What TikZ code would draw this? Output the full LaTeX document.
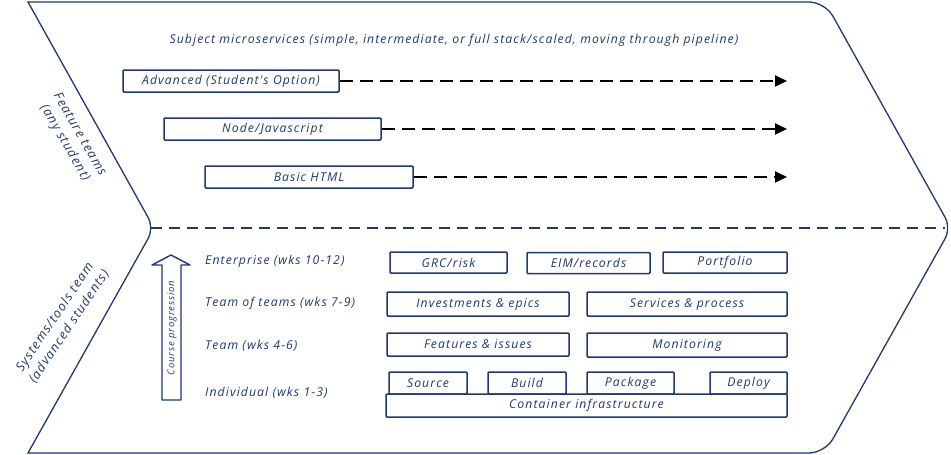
\documentclass[tikz,border=0pt]{standalone}
\usepackage{fontspec}
\setmainfont{Open Sans}[ItalicFont={Open Sans Italic}]
\newfontfamily\hand[LetterSpace=9]{Open Sans Italic}
\usetikzlibrary{arrows.meta}
\definecolor{navy}{RGB}{31,56,110}
\begin{document}
\begin{tikzpicture}[x=1pt,y=-1pt,
  outline/.style={draw=navy,line width=1.3pt},
  lbl/.style={text=navy,font=\hand\fontsize{12.2}{14}\selectfont,inner sep=0pt},
  side/.style={text=navy,font=\hand\fontsize{12.8}{17}\selectfont,inner sep=0pt,align=center},
  boxA/.style={draw=navy,line width=1.5pt,text=navy,font=\hand\fontsize{12.2}{14}\selectfont,inner sep=0pt,rounded corners=1pt},
  dasharrow/.style={draw=black,line width=1.8pt,dash pattern=on 13pt off 7pt,-{Triangle[length=12pt,width=11pt]}},
  small/.style={text=navy,font=\hand\fontsize{9.5}{11}\selectfont,inner sep=0pt}]
\useasboundingbox (0,0) rectangle (951,455);
% outer chevron
\draw[outline] (28,2) [rounded corners=16pt] -- (825,2) [rounded corners=12pt] -- (951,228) [rounded corners=16pt] -- (825,453) [sharp corners] -- (28,453) [rounded corners=12pt] -- (154,228) [sharp corners] -- cycle;
\coordinate (notch) at (151,228);
\coordinate (tip) at (945,228);
\draw[navy,line width=1.3pt,dash pattern=on 11pt off 7pt] (notch) -- (tip);
% title
\node[lbl] (title) at (454,40) {Subject microservices (simple, intermediate, or full stack/scaled, moving through pipeline)};
% upper boxes
\node[boxA,minimum width=216pt,minimum height=22pt] (adv) at (231,81) {Advanced (Student's Option)};
\node[boxA,minimum width=217pt,minimum height=22pt] (nodejs) at (272.5,129) {Node/Javascript};
\node[boxA,minimum width=208pt,minimum height=22pt] (html) at (309,177) {Basic HTML};
\coordinate (e1) at (787,81);
\coordinate (e2) at (787,129);
\coordinate (e3) at (787,177);
\draw[dasharrow] (adv.east) -- (e1);
\draw[dasharrow] (nodejs.east) -- (e2);
\draw[dasharrow] (html.east) -- (e3);
% side labels
\node[side,rotate=-60] (feat) at (72,139) {Feature teams\\(any student)};
\node[side,rotate=56] (sys) at (62,322) {Systems/tools team\\(advanced students)};
% course progression arrow
\draw[navy,line width=1.4pt,line join=round] (162,400) -- (162,265) -- (152,265) -- (171,255) -- (190,265) -- (181,265) -- (181,400) -- cycle;
\node[small,rotate=90] (cp) at (172,328) {Course progression};
% level labels
\node[lbl,anchor=west] (l4) at (205,261) {Enterprise (wks 10-12)};
\node[lbl,anchor=west] (l3) at (205,303) {Team of teams (wks 7-9)};
\node[lbl,anchor=west] (l2) at (205,346) {Team (wks 4-6)};
\node[lbl,anchor=west] (l1) at (205,393) {Individual (wks 1-3)};
% lower boxes
\node[boxA,minimum width=117pt,minimum height=21pt] (grc) at (448.5,262.5) {GRC/risk};
\node[boxA,minimum width=123pt,minimum height=21pt] (eim) at (588.5,263) {EIM/records};
\node[boxA,minimum width=124pt,minimum height=21pt] (port) at (725,262.5) {Portfolio};
\node[boxA,minimum width=182pt,minimum height=24pt] (inv) at (478,304) {Investments \& epics};
\node[boxA,minimum width=200pt,minimum height=24pt] (svc) at (687,304) {Services \& process};
\node[boxA,minimum width=182pt,minimum height=23pt] (fi) at (478,344.5) {Features \& issues};
\node[boxA,minimum width=200pt,minimum height=24pt] (mon) at (687,345) {Monitoring};
\node[boxA,minimum width=78pt,minimum height=22pt] (src) at (428,383) {Source};
\node[boxA,minimum width=78pt,minimum height=22pt] (bld) at (527,383) {Build};
\node[boxA,minimum width=87pt,minimum height=22pt] (pkg) at (630.5,383) {Package};
\node[boxA,minimum width=77pt,minimum height=22pt] (dep) at (748.5,383) {Deploy};
\node[boxA,minimum width=401pt,minimum height=23pt] (cont) at (586.5,405.5) {Container infrastructure};
\end{tikzpicture}
\end{document}
